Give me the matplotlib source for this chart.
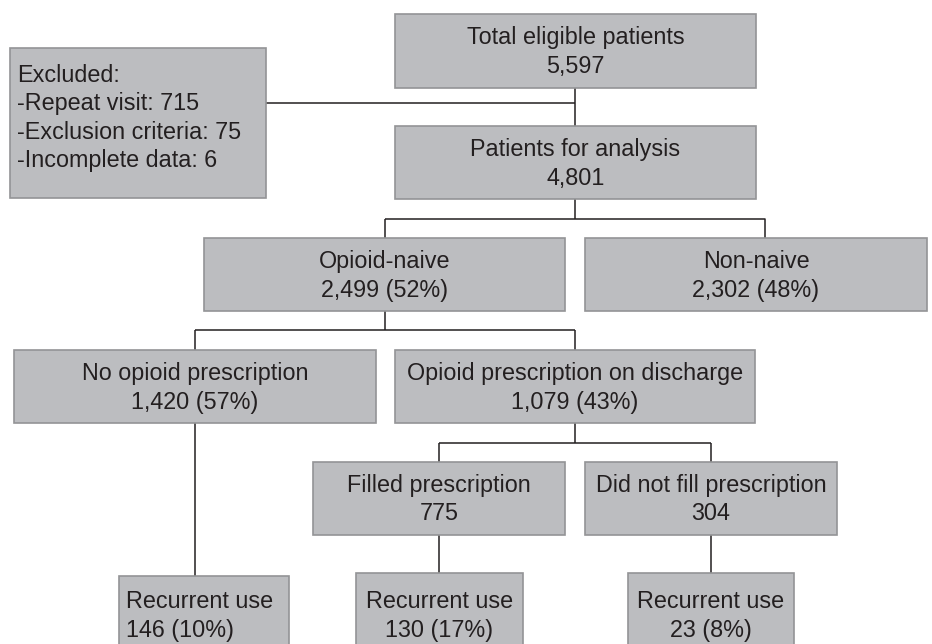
import matplotlib.pyplot as plt
from matplotlib.patches import Rectangle

# Flowchart content
titles = ["Total eligible patients", "Patients for analysis", "Opioid-naive", "Non-naive",
          "No opioid prescription", "Opioid prescription on discharge",
          "Filled prescription", "Did not fill prescription",
          "Recurrent use", "Recurrent use", "Recurrent use"]
counts = ["5,597", "4,801", "2,499 (52%)", "2,302 (48%)",
          "1,420 (57%)", "1,079 (43%)",
          "775", "304",
          "146 (10%)", "130 (17%)", "23 (8%)"]
excluded_items = ["Repeat visit", "Exclusion criteria", "Incomplete data"]
excluded_counts = [715, 75, 6]

# Box layout in pixel coordinates: x0, y0, x1, y1
boxes = [(395, 14, 756, 88), (395, 126, 756, 199), (204, 238, 565, 311), (585, 238, 927, 311),
         (14, 350, 376, 423), (395, 350, 755, 423),
         (313, 462, 565, 535), (585, 462, 837, 535),
         (119, 576, 289, 660), (356, 573, 523, 660), (628, 573, 794, 660)]
left_aligned = {8}
excl_box = (10, 48, 266, 198)

FILL = "#bcbdc0"
EDGE = "#939496"
INK = "#231f20"
FS = 16.8

plt.rcParams['font.family'] = ['Liberation Sans', 'DejaVu Sans']

fig = plt.figure(figsize=(9.32, 6.44), dpi=100)
ax = fig.add_axes([0, 0, 1, 1])
ax.set_xlim(0, 932)
ax.set_ylim(644, 0)
ax.axis("off")


def box(x0, y0, x1, y1):
    ax.add_patch(Rectangle((x0, y0), x1 - x0, y1 - y0, facecolor=FILL,
                           edgecolor=EDGE, linewidth=1.2, zorder=2))


def line(xs, ys):
    ax.plot(xs, ys, color=INK, linewidth=1.1, zorder=1, solid_capstyle="butt")


# connectors
line([266, 575], [103, 103])
line([575, 575], [88, 126])
line([575, 575], [199, 219])
line([385, 765, 765], [219, 219, 238])
line([385, 385], [219, 238])
line([385, 385], [311, 330])
line([195, 575], [330, 330])
line([195, 195], [330, 350])
line([575, 575], [330, 350])
line([195, 195], [423, 576])
line([575, 575], [423, 443])
line([439, 711], [443, 443])
line([439, 439], [443, 462])
line([711, 711], [443, 462])
line([439, 439], [535, 573])
line([711, 711], [535, 573])

for i, (x0, y0, x1, y1) in enumerate(boxes):
    box(x0, y0, x1, y1)
    # bottom row boxes run off the page, their text shares one baseline
    y_top = 602 if y0 >= 570 else y0 + 23
    if i in left_aligned:
        xt, ha = x0 + 7, "left"
    else:
        xt, ha = (x0 + x1) / 2, "center"
    ax.text(xt, y_top, titles[i], ha=ha, va="center", fontsize=FS, color=INK, zorder=3)
    ax.text(xt, y_top + 29, counts[i], ha=ha, va="center", fontsize=FS, color=INK, zorder=3)

box(*excl_box)
excl_lines = ["Excluded:"] + ["-%s: %d" % (n, c) for n, c in zip(excluded_items, excluded_counts)]
for k, s in enumerate(excl_lines):
    ax.text(excl_box[0] + 7, 75 + k * 28.5, s, ha="left", va="center",
            fontsize=FS, color=INK, zorder=3)

fig.savefig("out.png", dpi=100)
